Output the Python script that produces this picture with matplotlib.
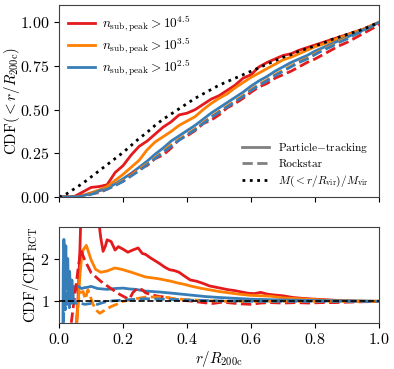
import numpy as np
import matplotlib
matplotlib.use('Agg')
import matplotlib.pyplot as plt
from matplotlib.lines import Line2D

plt.rcParams['font.family'] = 'serif'
plt.rcParams['font.serif'] = ['cmr10']
plt.rcParams['mathtext.fontset'] = 'cm'
plt.rcParams['axes.formatter.use_mathtext'] = True

red = '#e41a1c'
orange = '#ff7f00'
blue = '#377eb8'

# cumulative distributions
r_top = [0.0, 0.025, 0.05, 0.075, 0.1, 0.125, 0.15, 0.175, 0.2, 0.225,
         0.25, 0.275, 0.3, 0.325, 0.35, 0.375, 0.4, 0.425, 0.45, 0.475,
         0.5, 0.525, 0.55, 0.575, 0.6, 0.625, 0.65, 0.675, 0.7, 0.725,
         0.75, 0.775, 0.8, 0.825, 0.85, 0.875, 0.9, 0.925, 0.95, 0.975, 1.0]

cdf_mass = [0.0, 0.02, 0.05, 0.08, 0.115, 0.15, 0.185, 0.22, 0.255, 0.295,
            0.335, 0.37, 0.41, 0.445, 0.475, 0.505, 0.535, 0.565, 0.59, 0.615,
            0.64, 0.66, 0.68, 0.70, 0.72, 0.74, 0.76, 0.78, 0.80, 0.815,
            0.835, 0.85, 0.865, 0.88, 0.90, 0.915, 0.93, 0.945, 0.96, 0.98, 1.0]

pt_45 = [0.0, 0.0, 0.005, 0.03, 0.055, 0.06, 0.07, 0.14, 0.18, 0.24,
         0.29, 0.32, 0.36, 0.40, 0.43, 0.47, 0.48, 0.50, 0.53, 0.56,
         0.58, 0.61, 0.64, 0.68, 0.70, 0.745, 0.77, 0.79, 0.81, 0.82,
         0.84, 0.855, 0.87, 0.885, 0.90, 0.915, 0.93, 0.945, 0.96, 0.98, 1.0]
pt_35 = [0.0, 0.0, 0.0, 0.01, 0.025, 0.04, 0.06, 0.095, 0.13, 0.17,
         0.21, 0.27, 0.315, 0.345, 0.375, 0.41, 0.435, 0.46, 0.50, 0.535,
         0.565, 0.59, 0.625, 0.655, 0.685, 0.71, 0.735, 0.76, 0.785, 0.80,
         0.82, 0.84, 0.86, 0.875, 0.89, 0.91, 0.925, 0.945, 0.96, 0.98, 1.0]
pt_25 = [0.0, 0.0, 0.002, 0.008, 0.02, 0.035, 0.05, 0.075, 0.105, 0.135,
         0.17, 0.205, 0.245, 0.28, 0.32, 0.35, 0.38, 0.41, 0.445, 0.48,
         0.51, 0.54, 0.57, 0.60, 0.635, 0.665, 0.69, 0.72, 0.745, 0.77,
         0.79, 0.81, 0.835, 0.855, 0.875, 0.895, 0.915, 0.935, 0.955, 0.975, 1.0]

rs_45 = [0.0, 0.0, 0.002, 0.01, 0.02, 0.025, 0.045, 0.07, 0.09, 0.13,
         0.16, 0.18, 0.22, 0.24, 0.28, 0.33, 0.35, 0.38, 0.42, 0.44,
         0.47, 0.51, 0.535, 0.565, 0.60, 0.63, 0.65, 0.68, 0.70, 0.72,
         0.745, 0.77, 0.79, 0.815, 0.84, 0.865, 0.885, 0.91, 0.935, 0.96, 0.985]
rs_35 = [0.0, 0.0, 0.0, 0.008, 0.02, 0.03, 0.05, 0.07, 0.095, 0.125,
         0.16, 0.19, 0.225, 0.26, 0.30, 0.33, 0.36, 0.39, 0.425, 0.46,
         0.49, 0.52, 0.55, 0.58, 0.615, 0.645, 0.67, 0.70, 0.725, 0.75,
         0.775, 0.795, 0.82, 0.845, 0.865, 0.89, 0.91, 0.93, 0.955, 0.975, 1.0]
rs_25 = [0.0, 0.0, 0.0, 0.005, 0.015, 0.03, 0.045, 0.065, 0.09, 0.12,
         0.15, 0.185, 0.22, 0.255, 0.29, 0.325, 0.355, 0.385, 0.42, 0.455,
         0.485, 0.515, 0.545, 0.575, 0.61, 0.64, 0.665, 0.695, 0.72, 0.745,
         0.77, 0.79, 0.815, 0.84, 0.86, 0.885, 0.905, 0.93, 0.95, 0.975, 1.0]

# ratios to the reference CDF
r_pt45 = [0.055, 0.06, 0.065, 0.07, 0.09, 0.11, 0.122, 0.13, 0.1375, 0.145, 0.15,
          0.1625, 0.175, 0.185, 0.2, 0.215, 0.23, 0.247, 0.26, 0.27, 0.285, 0.3,
          0.315, 0.33, 0.345, 0.36, 0.375, 0.39, 0.41, 0.43, 0.45, 0.47, 0.49,
          0.51, 0.53, 0.55, 0.57, 0.59, 0.61, 0.63, 0.65, 0.67, 0.7, 0.73,
          0.76, 0.8, 0.85, 0.9, 0.95, 1.0]
ratio_pt45 = [0.5, 1.2, 2.2, 3.5, 4.0, 4.0, 3.0, 2.5, 2.17, 2.3, 2.44,
              2.4, 2.2, 2.28, 2.22, 2.15, 2.2, 2.25, 2.12, 2.1, 2.02, 1.95,
              1.88, 1.8, 1.74, 1.72, 1.68, 1.6, 1.5, 1.47, 1.42, 1.36, 1.33,
              1.3, 1.27, 1.25, 1.22, 1.19, 1.18, 1.21, 1.17, 1.15, 1.13, 1.09,
              1.07, 1.05, 1.03, 1.01, 1.0, 1.0]

r_pt35 = [0.055, 0.06, 0.065, 0.07, 0.075, 0.085, 0.09, 0.1, 0.114, 0.13,
          0.15, 0.174, 0.195, 0.226, 0.25, 0.27, 0.29, 0.31, 0.33, 0.35,
          0.37, 0.39, 0.41, 0.44, 0.47, 0.5, 0.53, 0.56, 0.6, 0.63, 0.66,
          0.7, 0.75, 0.8, 0.85, 0.9, 1.0]
ratio_pt35 = [0.5, 1.0, 1.6, 2.0, 2.2, 2.31, 2.2, 1.97, 1.75, 1.68,
              1.71, 1.78, 1.75, 1.68, 1.62, 1.57, 1.55, 1.53, 1.5, 1.47,
              1.43, 1.4, 1.36, 1.31, 1.27, 1.23, 1.2, 1.17, 1.14, 1.13, 1.12,
              1.08, 1.06, 1.04, 1.02, 1.01, 1.0]

r_pt25 = [0.012, 0.013, 0.015, 0.018, 0.021, 0.024, 0.027, 0.03, 0.033, 0.036,
          0.04, 0.043, 0.046, 0.05, 0.055, 0.06, 0.07, 0.08, 0.09, 0.1,
          0.12, 0.15, 0.175, 0.2, 0.22, 0.24, 0.27, 0.31, 0.34, 0.38,
          0.42, 0.46, 0.5, 0.55, 0.6, 0.65, 0.7, 0.8, 0.9, 1.0]
ratio_pt25 = [0.5, 1.8, 2.45, 1.6, 2.3, 1.3, 2.0, 1.1, 1.7, 0.95,
              1.5, 1.05, 1.35, 1.25, 1.33, 1.35, 1.3, 1.32, 1.33, 1.35,
              1.3, 1.28, 1.3, 1.31, 1.29, 1.28, 1.24, 1.22, 1.2, 1.17,
              1.14, 1.11, 1.09, 1.07, 1.05, 1.04, 1.03, 1.02, 1.01, 1.0]

r_rs45 = [0.038, 0.05, 0.06, 0.068, 0.08, 0.1, 0.13, 0.16, 0.19, 0.21,
          0.22, 0.23, 0.245, 0.26, 0.27, 0.29, 0.31, 0.33, 0.36, 0.39,
          0.42, 0.45, 0.48, 0.51, 0.54, 0.57, 0.6, 0.63, 0.66, 0.7,
          0.74, 0.78, 0.82, 0.86, 0.9, 0.95, 1.0]
ratio_rs45 = [0.5, 1.2, 1.8, 2.2, 1.97, 1.67, 1.47, 1.31, 1.16, 1.08,
              1.05, 1.2, 1.31, 1.27, 1.2, 1.15, 1.12, 1.1, 1.05, 1.02,
              1.0, 0.97, 0.95, 0.98, 0.96, 0.94, 0.93, 0.96, 0.97, 0.96,
              0.97, 0.96, 0.97, 0.97, 0.98, 0.99, 1.0]

r_rs35 = [0.054, 0.06, 0.065, 0.075, 0.082, 0.09, 0.096, 0.105, 0.115, 0.127,
          0.14, 0.163, 0.18, 0.2, 0.225, 0.247, 0.27, 0.3, 0.33, 0.36,
          0.4, 0.45, 0.5, 0.6, 0.7, 0.8, 0.9, 1.0]
ratio_rs35 = [0.5, 1.0, 1.2, 1.23, 1.05, 1.27, 1.15, 0.95, 0.8, 0.72,
              0.78, 0.88, 0.93, 1.0, 1.04, 1.07, 1.1, 1.1, 1.1, 1.06,
              1.04, 1.02, 1.0, 1.0, 1.0, 1.0, 1.0, 1.0]

r_rs25 = [0.014, 0.016, 0.019, 0.022, 0.025, 0.028, 0.032, 0.036, 0.04, 0.045,
          0.05, 0.06, 0.08, 0.1, 0.12, 0.15, 0.2, 0.27, 0.33, 0.4,
          0.5, 0.6, 0.7, 0.8, 0.9, 1.0]
ratio_rs25 = [0.5, 1.6, 0.8, 1.4, 0.9, 1.3, 0.85, 1.15, 0.9, 1.05,
              0.95, 0.97, 0.93, 0.95, 0.93, 1.0, 1.03, 1.06, 1.05, 1.03,
              1.01, 1.0, 1.0, 1.0, 1.0, 1.0]

fig = plt.figure(figsize=(3.94, 3.69), dpi=100)
ax1 = fig.add_axes([0.15, 0.466, 0.812, 0.521])
ax2 = fig.add_axes([0.15, 0.1255, 0.812, 0.2605])

lw = 2.0
ax1.plot(r_top, pt_45, color=red, lw=lw, label=r'$n_{\rm sub,peak}>10^{4.5}$')
ax1.plot(r_top, pt_35, color=orange, lw=lw, label=r'$n_{\rm sub,peak}>10^{3.5}$')
ax1.plot(r_top, pt_25, color=blue, lw=lw, label=r'$n_{\rm sub,peak}>10^{2.5}$')
ax1.plot(r_top, rs_45, color=red, lw=lw, ls='--')
ax1.plot(r_top, rs_35, color=orange, lw=lw, ls='--')
ax1.plot(r_top, rs_25, color=blue, lw=lw, ls='--')
ax1.plot(r_top, cdf_mass, color='k', lw=2, ls=':')

leg1 = ax1.legend(loc='upper left', frameon=False, fontsize=9.6, handlelength=2.0,
                  handletextpad=0.5, labelspacing=0.12, borderaxespad=0.3)
ax1.add_artist(leg1)
style_handles = [Line2D([], [], color='0.5', lw=lw),
                 Line2D([], [], color='0.5', lw=lw, ls='--'),
                 Line2D([], [], color='k', lw=2, ls=':')]
style_labels = [r'Particle$-$tracking', 'Rockstar',
                r'$M(<r/R_{\rm vir})/M_{\rm vir}$']
ax1.legend(style_handles, style_labels, loc='lower right', frameon=False,
           fontsize=8.2, handlelength=2.4, labelspacing=0.35,
           bbox_to_anchor=(1.0, -0.01))

ax1.set_xlim(0, 1)
ax1.set_ylim(0, 1.1)
ax1.set_xticks([0, 0.2, 0.4, 0.6, 0.8, 1.0])
ax1.set_xticklabels([])
ax1.set_yticks([0, 0.25, 0.5, 0.75, 1.0])
ax1.set_ylabel(r'$\mathrm{CDF}(<r/R_{\rm 200c})$', fontsize=10.8)
ax1.yaxis.set_label_coords(-0.115, 0.5)

ax2.plot(r_pt45, ratio_pt45, color=red, lw=lw)
ax2.plot(r_pt35, ratio_pt35, color=orange, lw=lw)
ax2.plot(r_pt25, ratio_pt25, color=blue, lw=lw)
ax2.plot(r_rs45, ratio_rs45, color=red, lw=lw, ls='--')
ax2.plot(r_rs35, ratio_rs35, color=orange, lw=lw, ls='--')
ax2.plot(r_rs25, ratio_rs25, color=blue, lw=lw, ls='--')
ax2.axhline(1, color='k', lw=1.2, ls='--', zorder=5)

ax2.set_xlim(0, 1)
ax2.set_ylim(0.5, 2.75)
ax2.set_xticks([0, 0.2, 0.4, 0.6, 0.8, 1.0])
ax2.set_yticks([1, 2])
ax2.set_xlabel(r'$r/R_{\rm 200c}$', fontsize=10.8, labelpad=1)
ax2.set_ylabel(r'$\mathrm{CDF}/\mathrm{CDF}_{\rm RCT}$', fontsize=10.8)
ax2.yaxis.set_label_coords(-0.058, 0.5)

for ax in (ax1, ax2):
    ax.tick_params(labelsize=11.5)
    for s in ax.spines.values():
        s.set_color('0.25')

fig.savefig('out.png', dpi=100)
